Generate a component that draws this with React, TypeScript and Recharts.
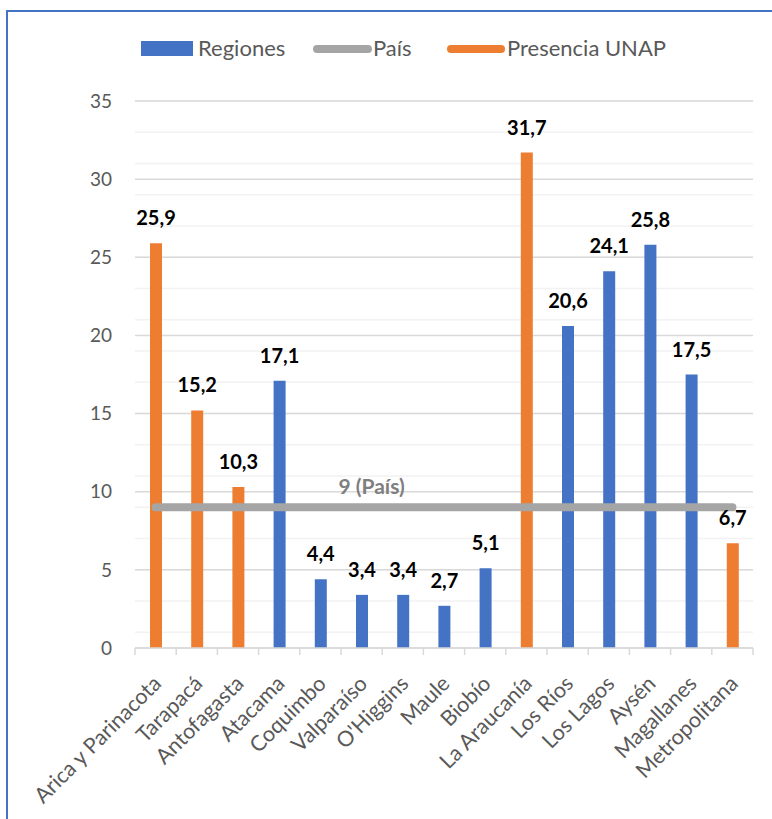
import React from 'react';
import {
  ComposedChart,
  Bar,
  Line,
  XAxis,
  YAxis,
  CartesianGrid,
  Legend,
  Cell,
  LabelList,
} from 'recharts';

const categories = [
  'Arica y Parinacota',
  'Tarapacá',
  'Antofagasta',
  'Atacama',
  'Coquimbo',
  'Valparaíso',
  "O'Higgins",
  'Maule',
  'Biobío',
  'La Araucanía',
  'Los Ríos',
  'Los Lagos',
  'Aysén',
  'Magallanes',
  'Metropolitana',
];
const values = [25.9, 15.2, 10.3, 17.1, 4.4, 3.4, 3.4, 2.7, 5.1, 31.7, 20.6, 24.1, 25.8, 17.5, 6.7];
const presenciaUnap = [true, true, true, false, false, false, false, false, false, true, false, false, false, false, true];
const paisValue = 9;
const paisLabel = '9 (País)';
const paisLabelIndex = 5;
const majorTicks = [0, 5, 10, 15, 20, 25, 30, 35];
const minorTicks = Array.from({ length: 36 }, (_, i) => i);

const BLUE = '#4472C4';
const ORANGE = '#ED7D31';
const GRAY = '#A5A5A5';
const FONT = 'Lato, "Noto Sans", sans-serif';

const data = categories.map((name, i) => ({
  name,
  value: values[i],
  pais: paisValue,
  unap: presenciaUnap[i],
}));

const CHART_W = 764;
const CHART_H = 805;
const MARGIN = { top: 20, right: 19, left: 67, bottom: 0 };
const BAND = (CHART_W - MARGIN.left - MARGIN.right - 60) / categories.length;

const XTick = (props: any) => {
  const { x, y, payload, index } = props;
  const half = BAND / 2;
  const tx = x + 7;
  const ty = y + 37;
  return (
    <g>
      <line x1={x - half} x2={x - half} y1={y} y2={y + 7} stroke="#D9D9D9" strokeWidth={1.5} />
      {index === categories.length - 1 && (
        <line x1={x + half} x2={x + half} y1={y} y2={y + 7} stroke="#D9D9D9" strokeWidth={1.5} />
      )}
      <text
        x={tx}
        y={ty}
        textAnchor="end"
        transform={`rotate(-45 ${tx} ${ty})`}
        fontSize={21.5}
        fontFamily={FONT}
        fill="#595959"
      >
        {payload.value}
      </text>
    </g>
  );
};

const BarLabel = (props: any) => {
  const { x, y, width, value } = props;
  return (
    <text
      x={x + width / 2}
      y={y - 18}
      textAnchor="middle"
      fontSize={20}
      fontWeight="bold"
      fontFamily={FONT}
      fill="#000000"
    >
      {String(value).replace('.', ',')}
    </text>
  );
};

const PaisLabel = (props: any) => {
  const { x, y, index } = props;
  if (index !== paisLabelIndex) return null;
  return (
    <text
      x={x + 10}
      y={y - 13}
      textAnchor="middle"
      fontSize={21}
      fontWeight="bold"
      fontFamily={FONT}
      fill="#7F7F7F"
    >
      {paisLabel}
    </text>
  );
};

const LegendContent = () => (
  <div style={{ position: 'relative', width: CHART_W, height: 69, fontFamily: FONT, fontSize: 22, color: '#595959' }}>
    <div style={{ position: 'absolute', left: 133, top: 9, width: 52, height: 15, background: BLUE }} />
    <div style={{ position: 'absolute', left: 190, top: 4, lineHeight: '24px' }}>Regiones</div>
    <div style={{ position: 'absolute', left: 305, top: 13, width: 59, height: 8, borderRadius: 4, background: GRAY }} />
    <div style={{ position: 'absolute', left: 365, top: 4, lineHeight: '24px' }}>País</div>
    <div style={{ position: 'absolute', left: 439, top: 13, width: 58, height: 8, borderRadius: 4, background: ORANGE }} />
    <div style={{ position: 'absolute', left: 499, top: 4, lineHeight: '24px' }}>Presencia UNAP</div>
  </div>
);

export default function App() {
  return (
    <div style={{ position: 'fixed', left: 0, top: 0, width: 772, height: 819, overflow: 'hidden', background: '#FFFFFF' }}>
      <div
        style={{
          position: 'absolute',
          left: 6,
          top: 10,
          width: 900,
          height: 900,
          borderTop: '2px solid #4472C4',
          borderLeft: '2px solid #4472C4',
          boxSizing: 'border-box',
        }}
      >
        <ComposedChart width={CHART_W} height={CHART_H} data={data} margin={MARGIN}>
          <CartesianGrid horizontal vertical={false} horizontalValues={minorTicks} stroke="#F2F2F2" strokeWidth={1.5} />
          <CartesianGrid horizontal vertical={false} horizontalValues={majorTicks} stroke="#D9D9D9" strokeWidth={1.5} />
          <Legend verticalAlign="top" wrapperStyle={{ top: 20, left: 0, width: CHART_W }} content={<LegendContent />} />
          <XAxis
            dataKey="name"
            interval={0}
            tickLine={false}
            tickSize={0}
            tickMargin={0}
            axisLine={{ stroke: '#D9D9D9', strokeWidth: 1.5 }}
            height={169}
            tick={<XTick />}
          />
          <YAxis
            domain={[0, 35]}
            ticks={majorTicks}
            width={60}
            axisLine={false}
            tickLine={false}
            tickSize={0}
            tickMargin={23}
            tick={{ fontSize: 19, fill: '#595959', fontFamily: FONT }}
          />
          <Bar dataKey="value" barSize={12} isAnimationActive={false}>
            {data.map((d, i) => (
              <Cell key={i} fill={d.unap ? ORANGE : BLUE} />
            ))}
            <LabelList dataKey="value" content={<BarLabel />} />
          </Bar>
          <Line
            dataKey="pais"
            stroke={GRAY}
            strokeWidth={8}
            strokeLinecap="round"
            dot={false}
            activeDot={false}
            isAnimationActive={false}
            label={<PaisLabel />}
          />
        </ComposedChart>
      </div>
    </div>
  );
}
